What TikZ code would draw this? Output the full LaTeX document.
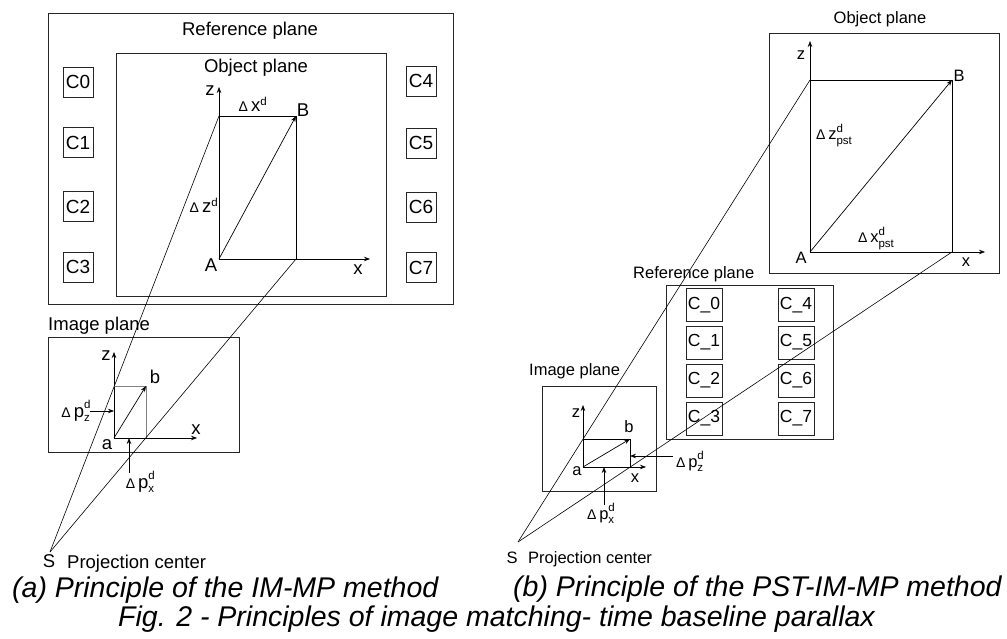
\documentclass[tikz,border=0pt]{standalone}
\usepackage{fontspec}
\setmainfont{Liberation Sans}
\usetikzlibrary{arrows.meta, positioning}
\newcommand{\dlt}{{\fontsize{14}{14}\selectfont Δ}\,}
\newcommand{\supsub}[3]{#1\makebox[0pt][l]{\raisebox{0.85ex}{\fontsize{11.5}{11.5}\selectfont #3}}\raisebox{-0.5ex}{\fontsize{11.5}{11.5}\selectfont #2}}
\tikzset{
  plane/.style={draw=black!85, line width=0.9pt},
  cbox/.style={draw=black!85, line width=0.9pt, minimum width=30pt,
               minimum height=30pt, inner sep=0pt, font=\fontsize{19}{20}\selectfont},
  cboxb/.style={cbox, minimum width=36pt, minimum height=33pt,
                font=\fontsize{17.5}{20}\selectfont},
  axis/.style={-{Stealth[length=6pt,width=4.5pt]}, line width=0.7pt},
  vec/.style={-{Stealth[length=6pt,width=4.5pt]}, line width=0.7pt},
  ray/.style={line width=0.6pt},
  lbla/.style={font=\fontsize{18.5}{20}\selectfont, inner sep=0pt},
  lblb/.style={font=\fontsize{16.5}{19}\selectfont, inner sep=0pt},
  capt/.style={font=\fontsize{28.5}{30}\selectfont\itshape, inner sep=0pt},
}
\begin{document}
\begin{tikzpicture}[x=1pt, y=-1pt]
  \useasboundingbox (0,0) rectangle (1007,639);

  % (a) Reference plane with object plane
  \draw[plane] (48,13) rectangle (453,304);
  \node[lbla, anchor=base] (refa) at (250,36) {Reference plane};
  \draw[plane] (116,53) rectangle (386,296);
  \node[lbla, anchor=base] (obja) at (256,72.5) {Object plane};

  % Control points (a)
  \foreach \i/\y in {0/82, 1/142.5, 2/206.5, 3/267}
    \node[cbox] (ca\i) at (78,\y) {C\i};
  \foreach \i/\y in {4/81, 5/143, 6/207, 7/267.5}
    \node[cbox] (ca\i) at (421,\y) {C\i};

  % Object axes (a)
  \coordinate (Aa) at (219,259);
  \coordinate (Ba) at (296,116);
  \coordinate (TLa) at (219,116);
  \coordinate (BRa) at (296,259);
  \coordinate (zA) at (219,87);
  \coordinate (xA) at (370,259);
  \draw[axis] (Aa) -- (zA);
  \draw[axis] (Aa) -- (xA);
  \draw[line width=0.9pt] (TLa) -- (Ba) -- (BRa);
  \draw[vec] (Aa) -- (Ba);
  \node[lbla, anchor=base] (zla) at (210,96) {z};
  \node[lbla, anchor=base] (xla) at (358,274) {x};
  \node[lbla, anchor=base] (Ala) at (211,272) {A};
  \node[lbla, anchor=base] (Bla) at (303,117) {B};
  \node[lbla, anchor=base] (dxa) at (253,112) {\dlt x\textsuperscript{\fontsize{11.5}{11.5}\selectfont d}};
  \node[lbla, anchor=base] (dza) at (204,213) {\dlt z\textsuperscript{\fontsize{11.5}{11.5}\selectfont d}};

  % (a) Image plane
  \draw[plane] (48,337) rectangle (239,452);
  \node[lbla, anchor=base west] (imga) at (48,330) {Image plane};
  \coordinate (aa) at (114,438);
  \coordinate (ba) at (146,386);
  \coordinate (za) at (114,352);
  \coordinate (xa) at (197,438);
  \draw[axis] (aa) -- (za);
  \draw[axis] (aa) -- (xa);
  \draw[gray, line width=0.9pt] (114,386) -- (ba) -- (146,438);
  \draw[vec] (aa) -- (ba);
  \node[lbla, anchor=base] (zia) at (106,360) {z};
  \node[lbla, anchor=base] (xia) at (196,434) {x};
  \node[lbla, anchor=base] (aia) at (107,449) {a};
  \node[lbla, anchor=base] (bia) at (155,383) {b};
  \node[lbla, anchor=base east] (pza) at (90,417) {\dlt\supsub{p}{z}{d}};
  \coordinate (pzta) at (114,411);
  \draw[vec] (90,411) -- (pzta);
  \node[lbla, anchor=base] (pxa) at (140,488) {\dlt\supsub{p}{x}{d}};
  \coordinate (pxta) at (129,438);
  \draw[vec] (129,473) -- (pxta);

  % (a) Projection center and rays
  \coordinate (Sa) at (50,552);
  \draw[ray] (Sa) -- (TLa);
  \draw[ray] (Sa) -- (BRa);
  \node[lbla, anchor=base] (Sla) at (49,567) {S};
  \node[lbla, anchor=base west] (pca) at (67,568) {Projection center};

  % (b) Object plane
  \draw[plane] (769,33) rectangle (999,273);
  \node[lblb, anchor=base] (objb) at (880,24) {Object plane};
  \coordinate (Ab) at (810,252);
  \coordinate (Bb) at (952,80);
  \coordinate (TLb) at (810,80);
  \coordinate (BRb) at (952,252);
  \draw[axis] (Ab) -- (810,41);
  \draw[axis] (Ab) -- (985,252);
  \draw[line width=0.9pt] (TLb) -- (Bb) -- (BRb);
  \draw[vec] (Ab) -- (Bb);
  \node[lblb, anchor=base] (zlb) at (801,60) {z};
  \node[lblb, anchor=base] (xlb) at (966,267) {x};
  \node[lblb, anchor=base] (Alb) at (801,263) {A};
  \node[lblb, anchor=base] (Blb) at (959,82) {B};
  \node[lblb, anchor=base west] (dzb) at (816,140) {\dlt\supsub{z}{pst}{d}};
  \node[lblb, anchor=base west] (dxb) at (858,243) {\dlt\supsub{x}{pst}{d}};

  % (b) Reference plane
  \draw[plane] (666,285) rectangle (833,439);
  \node[lblb, anchor=base west] (refb) at (633,278) {Reference plane};
  \foreach \i/\y in {0/305, 1/342.5, 2/380.5, 3/418.5}
    \node[cboxb] (cb\i) at (704,\y) {C\_\i};
  \foreach \i/\y in {4/305, 5/342.5, 6/380.5, 7/418.5}
    \node[cboxb] (cb\i) at (796,\y) {C\_\i};

  % (b) Image plane
  \draw[plane] (542,386) rectangle (656,491);
  \node[lblb, anchor=base west] (imgb) at (529,375) {Image plane};
  \coordinate (ab) at (583,467);
  \coordinate (bb) at (630,439);
  \draw[axis] (ab) -- (583,405);
  \draw[axis] (ab) -- (646,467);
  \draw[line width=0.9pt] (583,439) -- (bb) -- (630,467);
  \draw[vec] (ab) -- (bb);
  \node[lblb, anchor=base] (zib) at (576,417) {z};
  \node[lblb, anchor=base] (xib) at (635,482) {x};
  \node[lblb, anchor=base] (aib) at (577,475) {a};
  \node[lblb, anchor=base] (bib) at (629,432) {b};
  \node[lblb, anchor=base west] (pzb) at (676,467) {\dlt\supsub{p}{z}{d}};
  \draw[vec] (673,456) -- (630,456);
  \node[lblb, anchor=base west] (pxb) at (587,519) {\dlt\supsub{p}{x}{d}};
  \draw[vec] (604,505) -- (604,467);

  % (b) Projection center and rays
  \coordinate (Sb) at (518,542);
  \draw[ray] (Sb) -- (TLb);
  \draw[ray] (Sb) -- (BRb);
  \node[lblb, anchor=base] (Slb) at (512,563) {S};
  \node[lblb, anchor=base west] (pcb) at (528,563) {Projection center};

  % Captions
  \node[capt, anchor=base west] (capa) at (12,597) {(a) Principle of the IM-MP method};
  \node[capt, anchor=base west] (capb) at (513,596) {(b) Principle of the PST-IM-MP method};
  \node[capt, anchor=base west] (capf) at (118,626) {Fig. 2 - Principles of image matching- time baseline parallax};
\end{tikzpicture}
\end{document}
